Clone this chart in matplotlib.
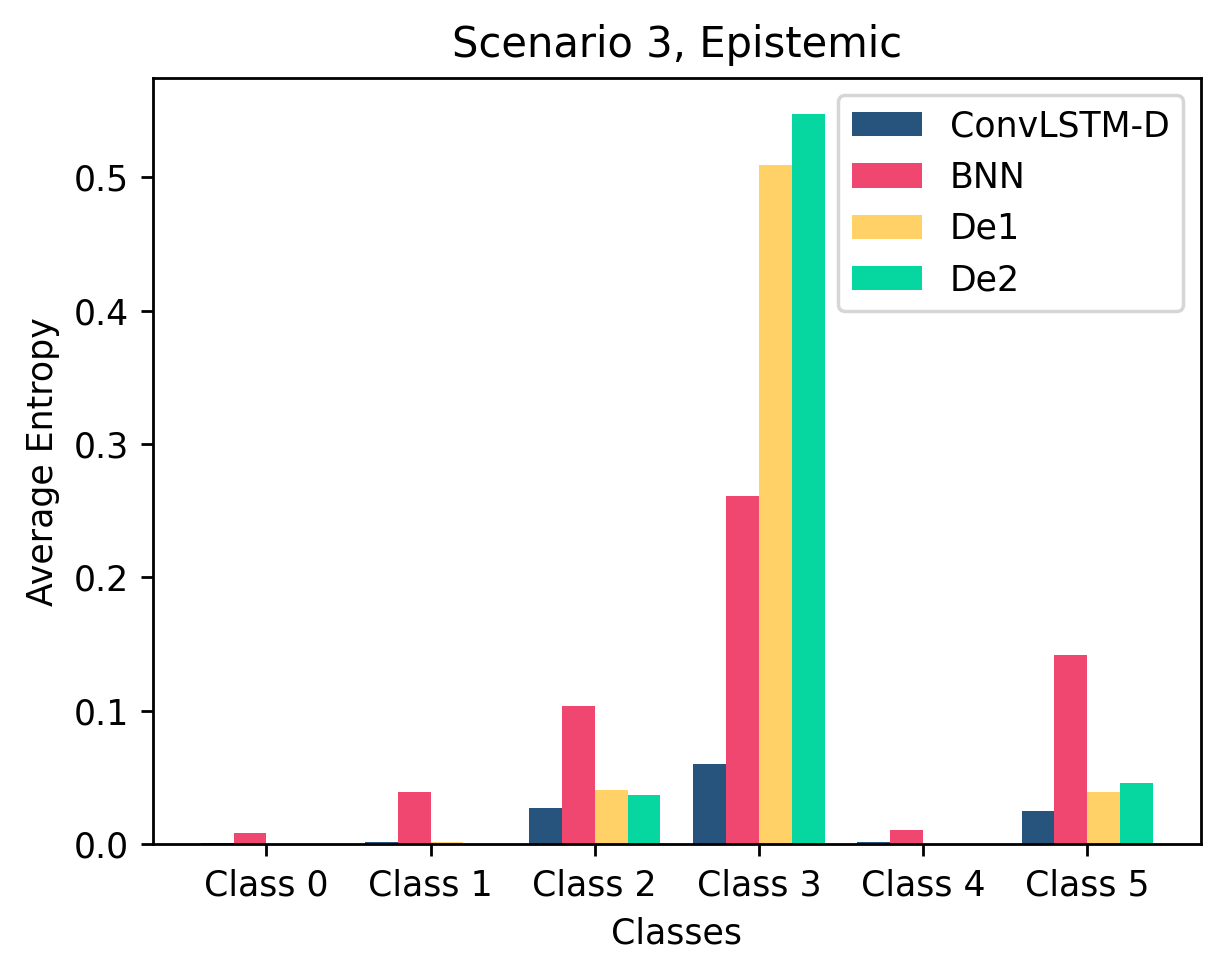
import matplotlib
matplotlib.use("Agg")
import matplotlib.pyplot as plt
import numpy as np

classes = ["Class 0", "Class 1", "Class 2", "Class 3", "Class 4", "Class 5"]
convlstm_d = [0.0012, 0.002, 0.027, 0.060, 0.002, 0.025]
bnn = [0.0083, 0.039, 0.104, 0.261, 0.0105, 0.142]
de1 = [0.0, 0.0015, 0.041, 0.509, 0.0, 0.039]
de2 = [0.0, 0.0, 0.037, 0.547, 0.0, 0.046]

series = [("ConvLSTM-D", convlstm_d, "#26547C"),
          ("BNN", bnn, "#EF476F"),
          ("De1", de1, "#FFD166"),
          ("De2", de2, "#06D6A0")]

fig, ax = plt.subplots(figsize=(4.9, 3.9), dpi=250)
x = np.arange(len(classes))
width = 0.2
for i, (name, vals, col) in enumerate(series):
    ax.bar(x + (i - 1.5) * width, vals, width, label=name, color=col)

ax.set_xticks(x)
ax.set_xticklabels(classes)
ax.set_xlabel("Classes")
ax.set_ylabel("Average Entropy")
ax.set_title("Scenario 3, Epistemic")
ax.legend(loc="upper right")
fig.subplots_adjust(left=0.125, right=0.98, top=0.92, bottom=0.134)
fig.savefig("out.png")
